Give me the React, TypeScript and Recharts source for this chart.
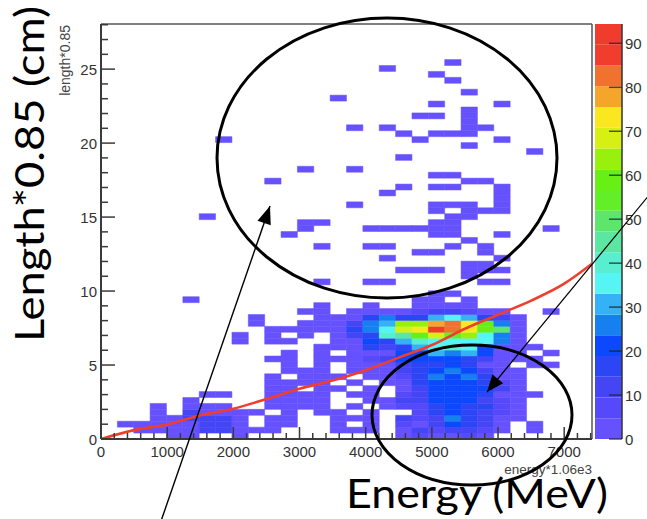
import React from 'react';
import { ComposedChart, BarChart, Bar, Line, XAxis, YAxis, ReferenceArea, ReferenceLine } from 'recharts';

const W = 647;
const H = 519;

// ROOT TH2 ranges: energy*1.06e3 in 30 bins, length*0.85 in 70 bins
const X_MAX = 7420;
const Y_MAX = 28.05;
const Z_MAX = 94.4;
const X_BINS = 30;
const Y_BINS = 70;
const BIN_W = X_MAX / X_BINS;
const BIN_H = Y_MAX / Y_BINS;

const xMajorTicks = [0, 1000, 2000, 3000, 4000, 5000, 6000, 7000];
const yMajorTicks = [0, 5, 10, 15, 20, 25];
const zTicks = [0, 10, 20, 30, 40, 50, 60, 70, 80, 90];

// palette bands, bottom (0) to top (Z_MAX)
const paletteColors = [
    '#6651ff', '#5649fb', '#4446f6', '#2c46f5', '#0c48fd',
    '#1680f1', '#34b2f5', '#56f4f4', '#58efd0', '#5be6a2',
    '#5ee66c', '#62ef28', '#68f014', '#98f00c', '#d6f014',
    '#fbe71f', '#f6a52b', '#f0722e', '#f03d2e', '#f03c2d',
];

// counts per length bin (row 0 = bottom), 30 energy bins per row
const denseRows: number[][] = [
    [0, 0, 0, 0, 2, 2, 0, 0, 2, 0, 0, 0, 0, 0, 0, 0, 0, 0, 2, 6, 2, 2, 6, 2, 0, 0, 0, 0, 0, 0],
    [0, 0, 2, 2, 2, 2, 12, 12, 2, 2, 2, 0, 0, 0, 2, 2, 2, 0, 2, 12, 6, 12, 12, 6, 2, 0, 2, 0, 0, 0],
    [0, 2, 2, 2, 2, 2, 12, 12, 2, 0, 2, 2, 0, 0, 2, 0, 2, 0, 6, 2, 12, 21, 17, 12, 2, 0, 2, 0, 0, 0],
    [0, 0, 0, 2, 2, 12, 12, 12, 2, 0, 2, 2, 0, 0, 2, 2, 2, 0, 12, 6, 12, 26, 17, 12, 2, 2, 0, 0, 0, 0],
    [0, 0, 0, 2, 0, 12, 2, 2, 2, 2, 0, 2, 0, 2, 2, 0, 2, 0, 0, 6, 17, 21, 17, 12, 6, 2, 0, 0, 0, 0],
    [0, 0, 0, 2, 0, 2, 2, 2, 0, 0, 2, 2, 2, 2, 0, 2, 0, 2, 6, 6, 17, 21, 17, 17, 6, 2, 0, 0, 0, 0],
    [0, 0, 0, 0, 0, 2, 0, 0, 0, 0, 2, 2, 2, 2, 0, 0, 2, 2, 12, 12, 21, 21, 21, 12, 6, 2, 0, 0, 0, 0],
    [0, 0, 0, 0, 0, 0, 2, 2, 0, 0, 2, 2, 2, 2, 0, 2, 2, 0, 6, 12, 21, 21, 21, 17, 2, 2, 2, 0, 0, 0],
    [0, 0, 0, 0, 0, 0, 0, 0, 0, 0, 2, 2, 0, 2, 2, 0, 2, 0, 2, 12, 21, 21, 21, 21, 12, 2, 0, 0, 0, 0],
    [0, 0, 0, 0, 0, 0, 0, 0, 0, 0, 2, 2, 2, 2, 0, 2, 0, 2, 2, 17, 21, 21, 21, 17, 6, 2, 0, 0, 0, 0],
    [0, 0, 0, 0, 0, 0, 0, 0, 0, 0, 2, 0, 2, 2, 2, 0, 2, 2, 6, 17, 26, 21, 26, 17, 2, 2, 0, 0, 0, 0],
    [0, 0, 0, 0, 0, 0, 0, 0, 0, 0, 0, 2, 2, 2, 0, 2, 2, 2, 12, 17, 21, 26, 21, 12, 2, 2, 0, 0, 0, 0],
    [0, 0, 0, 0, 0, 0, 0, 0, 0, 0, 0, 2, 0, 2, 0, 2, 2, 2, 12, 17, 17, 21, 17, 2, 2, 0, 2, 2, 0, 0],
    [0, 0, 0, 0, 0, 0, 0, 0, 0, 0, 2, 2, 0, 2, 2, 2, 6, 12, 21, 21, 21, 21, 17, 12, 2, 2, 2, 0, 0, 0],
    [0, 0, 0, 0, 0, 0, 0, 0, 0, 0, 0, 2, 0, 2, 0, 2, 2, 2, 21, 21, 31, 26, 31, 21, 2, 2, 0, 2, 0, 0],
    [0, 0, 0, 0, 0, 0, 0, 0, 0, 0, 0, 0, 0, 2, 2, 2, 17, 12, 17, 31, 35, 40, 35, 21, 2, 2, 2, 0, 0, 0],
    [0, 0, 0, 0, 0, 0, 0, 0, 2, 0, 2, 2, 0, 0, 2, 2, 21, 17, 31, 40, 35, 35, 35, 35, 26, 2, 0, 0, 0, 0],
    [0, 0, 0, 0, 0, 0, 0, 0, 2, 0, 2, 0, 2, 0, 2, 12, 17, 40, 45, 59, 68, 54, 63, 35, 26, 2, 0, 0, 0, 0],
    [0, 0, 0, 0, 0, 0, 0, 0, 0, 0, 2, 2, 2, 2, 2, 17, 26, 35, 68, 73, 90, 83, 73, 59, 49, 2, 0, 0, 0, 0],
    [0, 0, 0, 0, 0, 0, 0, 0, 0, 2, 0, 0, 2, 2, 2, 12, 26, 31, 63, 63, 78, 83, 73, 59, 26, 2, 0, 0, 0, 0],
    [0, 0, 0, 0, 0, 0, 0, 0, 0, 2, 0, 0, 0, 2, 2, 2, 17, 26, 17, 17, 31, 35, 31, 17, 12, 2, 0, 0, 0, 0],
    [0, 0, 0, 0, 0, 0, 0, 0, 0, 0, 0, 0, 2, 2, 0, 2, 2, 2, 2, 6, 12, 12, 6, 2, 2, 0, 0, 2, 0, 0],
    [0, 0, 0, 0, 0, 0, 0, 0, 0, 0, 0, 0, 0, 2, 0, 0, 2, 0, 0, 2, 2, 2, 2, 0, 0, 0, 0, 0, 0, 0],
    [0, 0, 0, 0, 0, 2, 0, 0, 0, 0, 0, 0, 0, 0, 0, 0, 0, 0, 0, 2, 2, 0, 2, 0, 0, 0, 0, 0, 0, 0],
    [0, 0, 0, 0, 0, 0, 0, 0, 0, 0, 0, 0, 0, 0, 0, 0, 0, 0, 0, 0, 2, 2, 0, 0, 0, 0, 0, 0, 0, 0],
];

// isolated entries higher up: [energy bin, length bin, count]
const sparseCells: [number, number, number][] = [
    [21, 63, 1], [17, 62, 1], [20, 61, 1], [21, 60, 1], [22, 58, 1], [14, 57, 1], [20, 56, 1], [24, 56, 1],
    [19, 54, 1], [20, 54, 1], [22, 55, 1], [22, 54, 1], [22, 53, 1], [22, 52, 1], [22, 51, 1], [15, 52, 1],
    [17, 52, 1], [23, 52, 1], [18, 51, 1], [20, 51, 1], [21, 51, 1], [7, 50, 1], [19, 50, 1], [24, 50, 1],
    [22, 49, 1], [26, 48, 1], [18, 47, 1], [12, 45, 1], [15, 45, 1], [20, 44, 1], [21, 44, 1], [10, 43, 1],
    [22, 43, 1], [23, 43, 1], [18, 42, 1], [20, 42, 1], [21, 42, 1], [24, 42, 1], [17, 41, 1], [24, 41, 1],
    [24, 40, 1], [15, 39, 1], [20, 39, 1], [21, 39, 1], [22, 39, 1], [24, 39, 1], [20, 38, 1], [22, 38, 1],
    [23, 38, 1], [24, 38, 1], [6, 37, 1], [21, 37, 1], [22, 37, 1], [12, 36, 1], [13, 36, 1], [20, 36, 1],
    [21, 36, 1], [12, 35, 1], [16, 35, 1], [17, 35, 1], [18, 35, 1], [19, 35, 1], [20, 35, 1], [21, 35, 1],
    [27, 35, 1], [11, 34, 1], [20, 34, 1], [21, 34, 1], [24, 34, 1], [22, 33, 1], [13, 32, 1], [16, 32, 1],
    [17, 32, 1], [21, 32, 1], [23, 32, 1], [19, 31, 1], [20, 31, 1], [23, 31, 1], [17, 30, 1], [24, 30, 1],
    [22, 29, 1], [23, 29, 1], [18, 28, 1], [19, 28, 1], [20, 28, 1], [22, 28, 1], [23, 28, 1], [24, 28, 1],
    [22, 27, 1], [13, 26, 1], [16, 26, 1], [17, 26, 1], [23, 26, 1], [24, 26, 1],
];

// red reference curve
const curveEnergy = [0, 500, 1000, 1500, 2000, 2500, 3000, 3500, 4000, 4500, 5000, 5500, 6000, 6500, 7000, 7420];
const curveLength = [0, 0.6, 0.98, 1.6, 2.05, 2.7, 3.4, 3.95, 4.65, 5.5, 6.35, 7.45, 8.4, 9.35, 10.5, 11.85];

const AXIS = '#3a3a3a';
const TICK_FONT = '"Liberation Sans", Arial, sans-serif';
const BIG_FONT = 'Lato, "Open Sans", sans-serif';

const xTicks: number[] = [];
for (let v = 0; v <= X_MAX; v += 200) xTicks.push(v);
const yTicks: number[] = [];
for (let v = 0; v <= Y_MAX; v += 1) yTicks.push(v);

const bandSize = Z_MAX / paletteColors.length;
const colorOf = (c: number) => paletteColors[Math.min(paletteColors.length - 1, Math.floor(c / bandSize))];

const cells: { i: number; j: number; c: number }[] = [];
denseRows.forEach((row, j) => row.forEach((c, i) => { if (c > 0) cells.push({ i, j, c }); }));
sparseCells.forEach(([i, j, c]) => cells.push({ i, j, c }));

const curveData = curveEnergy.map((x, k) => ({ x, y: curveLength[k] }));

const paletteRow: Record<string, number | string> = { name: 'z' };
paletteColors.forEach((_, k) => { paletteRow[`b${k}`] = bandSize; });

const XTick = (p: any) => {
    const major = xMajorTicks.includes(p.payload.value);
    return (
        <g>
            <line x1={p.x} x2={p.x} y1={p.y} y2={p.y - (major ? 12 : 6)} stroke={AXIS} strokeWidth={1.5} />
            {major && (
                <text x={p.x} y={p.y + 18} textAnchor="middle" fontSize={15} fontFamily={TICK_FONT} fill="#333">{p.payload.value}</text>
            )}
        </g>
    );
};

const YTick = (p: any) => {
    const major = yMajorTicks.includes(p.payload.value);
    return (
        <g>
            <line x1={p.x} x2={p.x + (major ? 14 : 7)} y1={p.y} y2={p.y} stroke={AXIS} strokeWidth={1.5} />
            {major && (
                <text x={p.x - 4} y={p.y + 5.5} textAnchor="end" fontSize={15} fontFamily={TICK_FONT} fill="#333">{p.payload.value}</text>
            )}
        </g>
    );
};

const ZTick = (p: any) => (
    <g>
        <line x1={p.x - 13} x2={p.x} y1={p.y} y2={p.y} stroke="#222" strokeOpacity={0.75} strokeWidth={1.5} />
        <text x={p.x + 3} y={p.y + 5.5} fontSize={15} fontFamily={TICK_FONT} fill="#333">{p.payload.value}</text>
    </g>
);

const arrowHead = (x0: number, y0: number, x1: number, y1: number, len: number, half: number) => {
    const dx = x1 - x0, dy = y1 - y0;
    const d = Math.hypot(dx, dy);
    const ux = dx / d, uy = dy / d;
    const bx = x1 - ux * len, by = y1 - uy * len;
    return `${x1},${y1} ${bx - uy * half},${by + ux * half} ${bx + uy * half},${by - ux * half}`;
};

const Annotations = () => (
    <svg width={W} height={H} style={{ position: 'absolute', left: 0, top: 0, pointerEvents: 'none' }}>
        <text transform="translate(69.5,25) rotate(-90)" textAnchor="end" fontSize={14} fontFamily={TICK_FONT} fill="#444">length*0.85</text>
        <text x={592} y={474} textAnchor="end" fontSize={13.5} fontFamily={TICK_FONT} fill="#444">energy*1.06e3</text>

        <text transform="translate(43.5,174) rotate(-90)" textAnchor="middle" fontSize={40} fontFamily={BIG_FONT}
            textLength={336} lengthAdjust="spacingAndGlyphs" fill="#000">Length*0.85 (cm)</text>
        <text x={477} y={508} textAnchor="middle" fontSize={40} fontFamily={BIG_FONT}
            textLength={262} lengthAdjust="spacingAndGlyphs" fill="#000">Energy (MeV)</text>

        <ellipse cx={387} cy={158} rx={170} ry={140} fill="none" stroke="#000" strokeWidth={3} />
        <ellipse cx={472} cy={415} rx={100} ry={70} fill="none" stroke="#000" strokeWidth={3} />

        <line x1={160} y1={524} x2={270} y2={206} stroke="#000" strokeWidth={1.4} />
        <polygon points={arrowHead(160, 524, 270, 206, 18, 7)} fill="#000" />
        <line x1={650} y1={194} x2={487} y2={392} stroke="#000" strokeWidth={1.2} />
        <polygon points={arrowHead(650, 194, 487, 392, 17, 7)} fill="#000" />
    </svg>
);

export default function App() {
    return (
        <div style={{ position: 'absolute', left: 0, top: 0, width: W, height: H, background: '#fff', overflow: 'hidden' }}>
            <div style={{ position: 'absolute', left: 0, top: 0 }}>
                <ComposedChart width={W} height={H} margin={{ top: 24, right: 55, bottom: 40, left: 40 }}>
                    <XAxis dataKey="x" type="number" domain={[0, X_MAX]} ticks={xTicks} interval={0} allowDataOverflow
                        tickSize={0} tickMargin={0} height={40} tick={(p: any) => <XTick {...p} />} tickLine={false}
                        axisLine={{ stroke: AXIS, strokeWidth: 2 }} />
                    <YAxis type="number" domain={[0, Y_MAX]} ticks={yTicks} interval={0} allowDataOverflow
                        tickSize={0} tickMargin={0} width={61} tick={(p: any) => <YTick {...p} />} tickLine={false}
                        axisLine={{ stroke: AXIS, strokeWidth: 2 }} />
                    {cells.map(cell => {
                        const fill = colorOf(cell.c);
                        return (
                            <ReferenceArea key={`${cell.i}-${cell.j}`}
                                x1={cell.i * BIN_W} x2={(cell.i + 1) * BIN_W}
                                y1={cell.j * BIN_H} y2={(cell.j + 1) * BIN_H}
                                fill={fill} fillOpacity={1} stroke={fill} strokeWidth={0.5} />
                        );
                    })}
                    <ReferenceLine y={Y_MAX} stroke="#555" strokeWidth={1.5} />
                    <ReferenceLine x={X_MAX} stroke="#555" strokeWidth={1.5} />
                    <Line data={curveData} dataKey="y" type="monotone" stroke="#ef3e2d" strokeWidth={2.6}
                        dot={false} activeDot={false} isAnimationActive={false} />
                </ComposedChart>
            </div>
            <div style={{ position: 'absolute', left: 0, top: 0 }}>
                <BarChart width={W} height={H} data={[paletteRow]} barCategoryGap={0}
                    margin={{ top: 24, right: 0, bottom: 80, left: 595 }}>
                    <XAxis dataKey="name" hide />
                    <YAxis orientation="right" type="number" domain={[0, Z_MAX]} ticks={zTicks} interval={0}
                        allowDataOverflow width={25} tickSize={0} tickMargin={0} tickLine={false}
                        tick={(p: any) => <ZTick {...p} />} axisLine={{ stroke: '#333', strokeWidth: 1.5 }} />
                    {paletteColors.map((c, k) => (
                        <Bar key={k} dataKey={`b${k}`} stackId="z" fill={c} isAnimationActive={false} />
                    ))}
                </BarChart>
            </div>
            <Annotations />
        </div>
    );
}
